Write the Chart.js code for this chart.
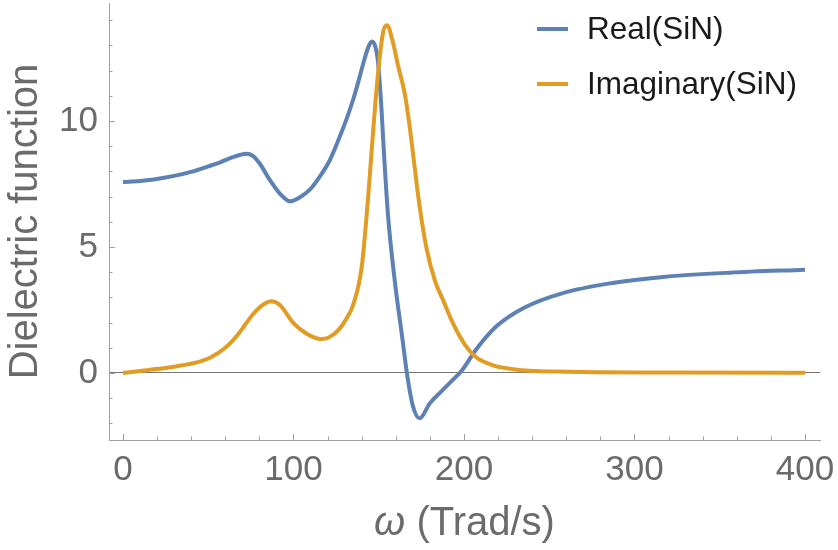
<!DOCTYPE html>
<html>
<head>
<meta charset="utf-8">
<script src="https://cdn.jsdelivr.net/npm/chart.js@4.4.0/dist/chart.umd.min.js"></script>
<style>
  html, body { margin: 0; padding: 0; background: #fff; }
</style>
</head>
<body>
<canvas id="chartCanvas" width="838" height="550"></canvas>
<script>
// values (omega in Trad/s)
const realOmega = [0, 10, 18, 30, 41, 50, 57, 64, 69, 72.5, 76, 80, 86, 92, 98, 104, 110, 115, 121, 127,
    131, 135, 138, 141, 144, 146, 148, 149.5, 151.5, 153, 155.5, 159.5, 164, 166.5, 170, 174, 180, 186, 192,
    199, 207, 219, 235, 258, 287, 317, 356, 400];
const realEps = [7.58, 7.62, 7.68, 7.82, 8.0, 8.2, 8.36, 8.55, 8.66, 8.70, 8.62, 8.33, 7.67, 7.12, 6.81, 6.98, 7.3, 7.75, 8.4, 9.35,
    10.05, 10.85, 11.55, 12.3, 12.95, 13.15, 12.95, 12.4, 10.6, 8.8, 6.2, 3.6, 1.3, 0, -1.3, -1.8, -1.2, -0.78, -0.37,
    0.12, 0.92, 1.85, 2.58, 3.17, 3.57, 3.81, 3.98, 4.1];

const imagOmega = [0, 15, 31, 45, 51, 60, 66.5, 72, 76, 82, 87, 92, 100, 108, 116, 121, 127, 131, 135, 140,
    143.7, 146.6, 149.6, 152.5, 154.8, 158.4, 161.3, 165.2, 168.1, 171, 174, 178, 183, 188, 193, 198, 203, 208, 214, 219,
    229, 238.5, 260, 278, 320, 400];
const imagEps = [0, 0.12, 0.26, 0.45, 0.6, 1.0, 1.45, 1.95, 2.31, 2.7, 2.85, 2.7, 1.98, 1.55, 1.35, 1.42, 1.75, 2.15, 2.7, 4.2,
    6.9, 9.5, 11.9, 13.5, 13.8, 13.1, 12.2, 11.1, 9.8, 8.2, 6.6, 4.95, 3.65, 2.85, 2.05, 1.4, 0.9, 0.58, 0.38, 0.26,
    0.15, 0.09, 0.05, 0.03, 0.02, 0.01];

const xTicks = [0, 100, 200, 300, 400];
const yTicks = [0, 5, 10];
const seriesNames = ['Real(SiN)', 'Imaginary(SiN)'];
const seriesColors = ['#5E81B5', '#E19C24'];

const FONT = "'Liberation Sans', Arial, sans-serif";
const GREY = '#6b6b6b';
const AXIS = '#a0a0a0';

function toPoints(xs, ys) {
    return xs.map((x, i) => ({ x: x, y: ys[i] }));
}

// inward tick marks, x axis title and legend, Mathematica style
const extras = {
    id: 'extras',
    beforeDatasetsDraw(chart) {
        const ctx = chart.ctx;
        const a = chart.chartArea;
        const xs = chart.scales.x, ys = chart.scales.y;
        ctx.save();
        ctx.strokeStyle = AXIS;
        ctx.lineWidth = 1;
        ctx.beginPath();
        for (let v = 0; v <= 400; v += 20) {
            const px = Math.round(xs.getPixelForValue(v)) + 0.5;
            const len = v % 100 === 0 ? 6 : 3.5;
            ctx.moveTo(px, a.bottom);
            ctx.lineTo(px, a.bottom - len);
        }
        for (let v = -2; v <= 14; v++) {
            const py = Math.round(ys.getPixelForValue(v)) + 0.5;
            const len = v % 5 === 0 ? 6 : 3.5;
            ctx.moveTo(a.left, py);
            ctx.lineTo(a.left + len, py);
        }
        ctx.stroke();
        ctx.restore();
    },
    afterDraw(chart) {
        const ctx = chart.ctx;
        const a = chart.chartArea;
        ctx.save();

        // x title: italic omega + units
        const cx = (a.left + a.right) / 2;
        const ty = 535;
        ctx.fillStyle = GREY;
        ctx.textBaseline = 'alphabetic';
        ctx.font = 'italic 40px ' + FONT;
        const w1 = ctx.measureText('ω').width;
        ctx.font = '40px ' + FONT;
        const rest = ' (Trad/s)';
        const w2 = ctx.measureText(rest).width;
        const x0 = cx - (w1 + w2) / 2;
        ctx.font = 'italic 40px ' + FONT;
        ctx.textAlign = 'left';
        ctx.fillText('ω', x0, ty);
        ctx.font = '40px ' + FONT;
        ctx.fillText(rest, x0 + w1, ty);

        // legend
        const rows = [29, 84];
        ctx.font = '31.5px ' + FONT;
        ctx.textBaseline = 'middle';
        chart.data.datasets.forEach((ds, i) => {
            ctx.strokeStyle = ds.borderColor;
            ctx.lineWidth = 4;
            ctx.beginPath();
            ctx.moveTo(537, rows[i]);
            ctx.lineTo(568, rows[i]);
            ctx.stroke();
            ctx.fillStyle = '#1a1a1a';
            ctx.fillText(ds.label, 587, rows[i] + 1);
        });
        ctx.restore();
    }
};

const ctx = document.getElementById('chartCanvas').getContext('2d');

window.myChart = new Chart(ctx, {
    type: 'line',
    data: {
        datasets: [
            {
                label: seriesNames[0],
                data: toPoints(realOmega, realEps),
                borderColor: seriesColors[0],
                borderWidth: 4,
                pointRadius: 0,
                cubicInterpolationMode: 'monotone',
                order: 1
            },
            {
                label: seriesNames[1],
                data: toPoints(imagOmega, imagEps),
                borderColor: seriesColors[1],
                borderWidth: 4,
                pointRadius: 0,
                cubicInterpolationMode: 'monotone',
                order: 0
            }
        ]
    },
    options: {
        responsive: false,
        animation: false,
        layout: { padding: { top: 3, right: 18, left: 0, bottom: 0 } },
        plugins: {
            legend: { display: false },
            tooltip: { enabled: false }
        },
        scales: {
            x: {
                type: 'linear',
                min: -8.2,
                max: 408.8,
                afterBuildTicks: axis => { axis.ticks = xTicks.map(v => ({ value: v })); },
                afterFit: axis => {
                    axis.height = 110;
                    axis.paddingLeft = 0;
                    axis.paddingRight = 0;
                },
                grid: { display: false, drawTicks: false },
                border: { display: true, color: AXIS, width: 1 },
                ticks: {
                    color: GREY,
                    font: { family: FONT, size: 35 },
                    padding: 9,
                    maxRotation: 0
                }
            },
            y: {
                type: 'linear',
                min: -2.66,
                max: 14.68,
                afterBuildTicks: axis => { axis.ticks = yTicks.map(v => ({ value: v })); },
                afterFit: axis => {
                    axis.width = 109;
                    axis.paddingTop = 0;
                    axis.paddingBottom = 0;
                },
                grid: {
                    drawTicks: false,
                    color: c => (c.tick && c.tick.value === 0 ? '#777' : 'rgba(0,0,0,0)'),
                    lineWidth: 1
                },
                border: { display: true, color: AXIS, width: 1 },
                ticks: {
                    color: GREY,
                    font: { family: FONT, size: 35 },
                    padding: 11
                },
                title: {
                    display: true,
                    text: 'Dielectric function',
                    color: GREY,
                    font: { family: FONT, size: 40 },
                    padding: { top: 2, bottom: 0 }
                }
            }
        }
    },
    plugins: [extras]
});
</script>
</body>
</html>
